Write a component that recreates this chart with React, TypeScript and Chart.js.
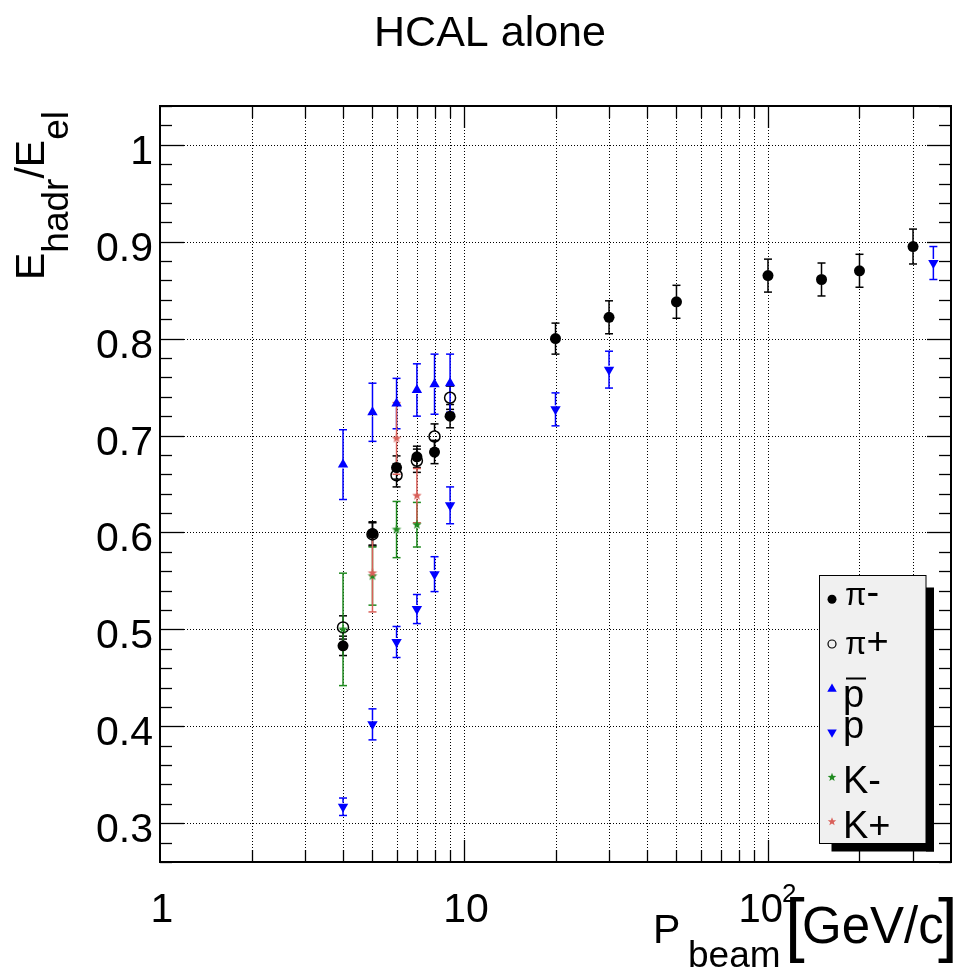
import React, { useEffect, useRef } from "react";
import { Chart, registerables } from "chart.js";

Chart.register(...registerables);

// ---------------- data ----------------
const piMinusP = [4, 5, 6, 7, 8, 9, 20, 30, 50, 100, 150, 200, 300];
const piMinusR = [0.483, 0.599, 0.667, 0.678, 0.683, 0.72, 0.8, 0.822, 0.838, 0.865, 0.861, 0.87, 0.895];
const piMinusE = [0.01, 0.012, 0.012, 0.011, 0.012, 0.012, 0.016, 0.017, 0.017, 0.017, 0.017, 0.017, 0.018];

const piPlusP = [4, 5, 6, 7, 8, 9];
const piPlusR = [0.502, 0.598, 0.659, 0.674, 0.699, 0.739];
const piPlusE = [0.012, 0.012, 0.012, 0.012, 0.013, 0.012];

const pbarP = [4, 5, 6, 7, 8, 9];
const pbarR = [0.67, 0.724, 0.733, 0.747, 0.753, 0.754];
const pbarE = [0.036, 0.03, 0.026, 0.027, 0.031, 0.03];

const protonP = [4, 5, 6, 7, 8, 9, 20, 30, 350];
const protonR = [0.317, 0.402, 0.487, 0.521, 0.557, 0.628, 0.727, 0.768, 0.878];
const protonE = [0.009, 0.016, 0.016, 0.015, 0.018, 0.019, 0.017, 0.019, 0.017];

const kMinusP = [4, 5, 6, 7];
const kMinusR = [0.5, 0.555, 0.603, 0.608];
const kMinusE = [0.058, 0.03, 0.029, 0.023];

const kPlusP = [5, 6, 7];
const kPlusR = [0.558, 0.697, 0.638];
const kPlusE = [0.04, 0.037, 0.028];

const yTickValues = [0.3, 0.4, 0.5, 0.6, 0.7, 0.8, 0.9, 1.0];
const yTickLabels = ["0.3", "0.4", "0.5", "0.6", "0.7", "0.8", "0.9", "1"];
const xTickValues = [1, 10, 100];
const xTickLabels = ["1", "10", "10"];
const xTickSups = ["", "", "2"];

const legendLabels = ["π-", "π+", "p", "p", "K-", "K+"];

const TITLE = "HCAL alone";

// ---------------- styles ----------------
const FONT = '"Liberation Sans", Arial, Helvetica, sans-serif';
const BLUE = "#0000ff";
const GREEN = "#1f8a1f";
const RED = "#d9605a";

function makeStar(color: string, r: number) {
  const c = document.createElement("canvas");
  const s = Math.ceil(r * 2 + 2);
  c.width = s;
  c.height = s;
  const g = c.getContext("2d")!;
  g.fillStyle = color;
  g.beginPath();
  for (let i = 0; i < 10; i++) {
    const rad = i % 2 === 0 ? r : r * 0.42;
    const a = -Math.PI / 2 + (i * Math.PI) / 5;
    g.lineTo(s / 2 + rad * Math.cos(a), s / 2 + rad * Math.sin(a));
  }
  g.closePath();
  g.fill();
  return c;
}

type Series = {
  label: string;
  p: number[];
  r: number[];
  e: number[];
  color: string;
  kind: "fcircle" | "ocircle" | "up" | "down" | "star";
  gap: number;
};

const series: Series[] = [
  { label: "π-", p: piMinusP, r: piMinusR, e: piMinusE, color: "#000000", kind: "fcircle", gap: 5 },
  { label: "π+", p: piPlusP, r: piPlusR, e: piPlusE, color: "#000000", kind: "ocircle", gap: 5.5 },
  { label: "pbar", p: pbarP, r: pbarR, e: pbarE, color: BLUE, kind: "up", gap: 4 },
  { label: "p", p: protonP, r: protonR, e: protonE, color: BLUE, kind: "down", gap: 4 },
  { label: "K-", p: kMinusP, r: kMinusR, e: kMinusE, color: GREEN, kind: "star", gap: 3 },
  { label: "K+", p: kPlusP, r: kPlusR, e: kPlusE, color: RED, kind: "star", gap: 3 },
];

function drawMarker(ctx: CanvasRenderingContext2D, kind: string, color: string, x: number, y: number, r: number) {
  ctx.save();
  ctx.fillStyle = color;
  ctx.strokeStyle = color;
  ctx.beginPath();
  if (kind === "fcircle") {
    ctx.arc(x, y, r, 0, Math.PI * 2);
    ctx.fill();
  } else if (kind === "ocircle") {
    ctx.lineWidth = 1.2;
    ctx.arc(x, y, r, 0, Math.PI * 2);
    ctx.stroke();
  } else if (kind === "up" || kind === "down") {
    const s = kind === "up" ? 1 : -1;
    ctx.moveTo(x, y - s * r);
    ctx.lineTo(x + r * 0.866, y + s * r * 0.5);
    ctx.lineTo(x - r * 0.866, y + s * r * 0.5);
    ctx.closePath();
    ctx.fill();
  } else {
    for (let i = 0; i < 10; i++) {
      const rad = i % 2 === 0 ? r : r * 0.42;
      const a = -Math.PI / 2 + (i * Math.PI) / 5;
      ctx.lineTo(x + rad * Math.cos(a), y + rad * Math.sin(a));
    }
    ctx.closePath();
    ctx.fill();
  }
  ctx.restore();
}

function line(ctx: CanvasRenderingContext2D, x1: number, y1: number, x2: number, y2: number) {
  ctx.beginPath();
  ctx.moveTo(x1, y1);
  ctx.lineTo(x2, y2);
  ctx.stroke();
}

function logGridValues(min: number, max: number) {
  const out: number[] = [];
  for (let d = 1; d <= max; d *= 10) {
    for (let m = 1; m <= 9; m++) {
      const v = m * d;
      if (v > min && v < max) out.push(v);
    }
  }
  return out;
}

const rootPlugin = {
  id: "rootStyle",
  beforeDraw(chart: any) {
    const { ctx, chartArea: a, scales } = chart;
    const xs = scales.x;
    const ys = scales.y;
    ctx.save();
    ctx.fillStyle = "#ffffff";
    ctx.fillRect(0, 0, chart.width, chart.height);
    ctx.strokeStyle = "#000";
    ctx.lineWidth = 1;
    ctx.setLineDash([1, 2]);
    for (const v of yTickValues) {
      const py = Math.round(ys.getPixelForValue(v)) + 0.5;
      line(ctx, a.left, py, a.right, py);
    }
    for (const v of logGridValues(xs.min, xs.max)) {
      const px = Math.round(xs.getPixelForValue(v)) + 0.5;
      line(ctx, px, a.top, px, a.bottom);
    }
    ctx.restore();
  },
  beforeDatasetsDraw(chart: any) {
    const { ctx, scales } = chart;
    const xs = scales.x;
    const ys = scales.y;
    ctx.save();
    ctx.lineWidth = 1.5;
    series.forEach((s) => {
      ctx.strokeStyle = s.color;
      s.p.forEach((pv, i) => {
        const px = xs.getPixelForValue(pv);
        const yc = ys.getPixelForValue(s.r[i]);
        const yt = ys.getPixelForValue(s.r[i] + s.e[i]);
        const yb = ys.getPixelForValue(s.r[i] - s.e[i]);
        if (yc - s.gap > yt) line(ctx, px, yt, px, yc - s.gap);
        if (yc + s.gap < yb) line(ctx, px, yc + s.gap, px, yb);
        line(ctx, px - 4, yt, px + 4, yt);
        line(ctx, px - 4, yb, px + 4, yb);
      });
    });
    ctx.restore();
  },
  afterDatasetsDraw(chart: any) {
    const { ctx, chartArea: a, scales } = chart;
    const xs = scales.x;
    const ys = scales.y;
    ctx.save();
    ctx.setLineDash([]);
    ctx.strokeStyle = "#000";
    ctx.lineWidth = 1;
    // y ticks (left and right)
    const yMinor: number[] = [];
    for (let k = Math.ceil(ys.min * 50 - 1e-6); k <= Math.floor(ys.max * 50 + 1e-6); k++) yMinor.push(k / 50);
    yMinor.forEach((v) => {
      const major = Math.abs(v * 10 - Math.round(v * 10)) < 1e-6;
      const len = major ? 24 : 12;
      const py = Math.round(ys.getPixelForValue(v)) + 0.5;
      ctx.lineWidth = 1.3;
      line(ctx, a.left, py, a.left + len, py);
      line(ctx, a.right - len, py, a.right, py);
    });
    // x ticks (bottom and top)
    logGridValues(xs.min, xs.max).forEach((v) => {
      const major = Math.abs(Math.log10(v) - Math.round(Math.log10(v))) < 1e-6;
      const len = major ? 22 : 12;
      const px = Math.round(xs.getPixelForValue(v)) + 0.5;
      line(ctx, px, a.bottom, px, a.bottom - len);
      line(ctx, px, a.top, px, a.top + len);
    });
    // frame
    ctx.lineWidth = 2;
    ctx.strokeRect(a.left, a.top, a.right - a.left, a.bottom - a.top);

    // tick labels
    ctx.fillStyle = "#000";
    ctx.font = `41px ${FONT}`;
    ctx.textAlign = "right";
    ctx.textBaseline = "alphabetic";
    yTickValues.forEach((v, i) => {
      const py = ys.getPixelForValue(v);
      ctx.fillText(yTickLabels[i], a.left - 7, py + 19);
    });
    xTickValues.forEach((v, i) => {
      const px = xs.getPixelForValue(v);
      const base = a.bottom + 60;
      if (xTickSups[i]) {
        ctx.font = `40px ${FONT}`;
        const w1 = ctx.measureText(xTickLabels[i]).width;
        ctx.font = `26px ${FONT}`;
        const w2 = ctx.measureText(xTickSups[i]).width;
        const x0 = px - (w1 + w2) / 2;
        ctx.textAlign = "left";
        ctx.font = `40px ${FONT}`;
        ctx.fillText(xTickLabels[i], x0, base);
        ctx.font = `26px ${FONT}`;
        ctx.fillText(xTickSups[i], x0 + w1 - 1, base - 20);
      } else {
        ctx.textAlign = "center";
        ctx.font = `41px ${FONT}`;
        ctx.fillText(xTickLabels[i], px + 2, base);
      }
    });

    // title
    ctx.textAlign = "center";
    ctx.font = `43px ${FONT}`;
    ctx.fillText(TITLE, 490, 46);

    // x axis title: P_beam [GeV/c]
    ctx.textAlign = "left";
    ctx.font = `41px ${FONT}`;
    ctx.fillText("P", 653, 943);
    ctx.font = `37px ${FONT}`;
    ctx.fillText("beam", 688, 967);
    ctx.font = `71px ${FONT}`;
    ctx.fillText("[", 785, 948);
    ctx.font = `51px ${FONT}`;
    ctx.fillText("GeV/c", 802, 943);
    ctx.font = `71px ${FONT}`;
    ctx.fillText("]", 938, 948);

    // y axis title: E_hadr / E_el (rotated)
    ctx.save();
    ctx.translate(44, 280);
    ctx.rotate(-Math.PI / 2);
    let cx = 0;
    const segs: [string, number, number][] = [
      ["E", 41, 0],
      ["hadr", 37, 24],
      ["/", 41, 0],
      ["E", 41, 0],
      ["el", 37, 24],
    ];
    segs.forEach(([t, size, dy]) => {
      ctx.font = `${size}px ${FONT}`;
      ctx.fillText(t, cx, dy);
      cx += ctx.measureText(t).width;
    });
    ctx.restore();

    // legend
    const L = 819.5, T = 575.5, R = 926, B = 843.5;
    ctx.fillStyle = "#000";
    ctx.fillRect(R, T + 12, 8, B - T - 4);
    ctx.fillRect(L + 12, B, R - L - 4, 8);
    ctx.fillStyle = "#f0f0f0";
    ctx.fillRect(L, T, R - L, B - T);
    ctx.lineWidth = 1;
    ctx.strokeStyle = "#000";
    ctx.strokeRect(L, T, R - L, B - T);

    const rowY = [599.3, 644, 689, 732.3, 777.3, 821.7];
    const rowBase = [605, 654, 706.5, 738, 792.7, 838];
    const msize = [4.5, 4, 5.5, 5.5, 4.5, 4.5];
    series.forEach((s, i) => {
      drawMarker(ctx, s.kind, s.color, 832, rowY[i], msize[i]);
      ctx.fillStyle = "#000";
      ctx.textAlign = "left";
      const lab = legendLabels[i];
      if (lab.startsWith("π")) {
        ctx.font = `31px ${FONT}`;
        ctx.fillText("π", 845, rowBase[i]);
        const w = ctx.measureText("π").width;
        ctx.font = `38px ${FONT}`;
        ctx.fillText(lab.slice(1), 845 + w, rowBase[i]);
      } else {
        ctx.font = `38px ${FONT}`;
        ctx.fillText(lab, 843, rowBase[i]);
        if (i === 2) {
          ctx.lineWidth = 2;
          ctx.strokeStyle = "#000";
          line(ctx, 846, 678.5, 866, 678.5);
        }
      }
    });
    ctx.restore();
  },
};

export default function App() {
  const ref = useRef<HTMLCanvasElement | null>(null);
  useEffect(() => {
    const canvas = ref.current!;
    const starK = makeStar(GREEN, 5);
    const starKp = makeStar(RED, 5);
    const datasets = series.map((s, i) => {
      const base: any = {
        label: s.label,
        data: s.p.map((pv, j) => ({ x: pv, y: s.r[j] })),
        showLine: false,
        order: 6 - i,
        pointBorderWidth: 0,
        pointBackgroundColor: s.color,
        pointBorderColor: s.color,
      };
      if (s.kind === "fcircle") {
        base.pointStyle = "circle";
        base.pointRadius = 5.5;
      } else if (s.kind === "ocircle") {
        base.pointStyle = "circle";
        base.pointRadius = 5.5;
        base.pointBackgroundColor = "rgba(0,0,0,0)";
        base.pointBorderWidth = 1.5;
      } else if (s.kind === "up") {
        base.pointStyle = "triangle";
        base.pointRadius = 6;
      } else if (s.kind === "down") {
        base.pointStyle = "triangle";
        base.pointRotation = 180;
        base.pointRadius = 6;
      } else {
        base.pointStyle = s.color === GREEN ? starK : starKp;
        base.pointRadius = 5;
      }
      return base;
    });
    const chart = new Chart(canvas, {
      type: "scatter",
      data: { datasets },
      options: {
        responsive: false,
        animation: false,
        devicePixelRatio: 1,
        events: [],
        layout: { padding: { left: 160, right: 4, top: 106, bottom: 109 } },
        plugins: { legend: { display: false }, tooltip: { enabled: false }, title: { display: false } },
        scales: {
          x: { type: "logarithmic", min: 1, max: 400, display: false },
          y: { type: "linear", min: 0.26, max: 1.04, display: false },
        },
      },
      plugins: [rootPlugin],
    });
    return () => chart.destroy();
  }, []);
  return (
    <div style={{ position: "absolute", left: 0, top: 0, width: 958, height: 971, background: "#fff" }}>
      <canvas ref={ref} width={958} height={971} style={{ width: 958, height: 971, display: "block" }} />
    </div>
  );
}
